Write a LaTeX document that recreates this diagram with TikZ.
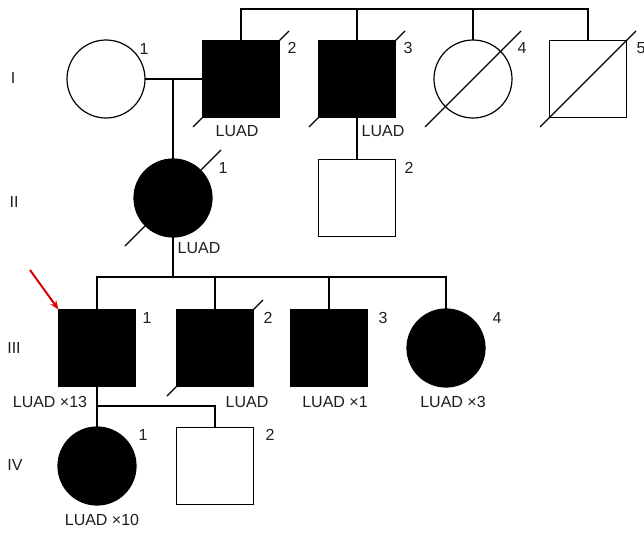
\documentclass[tikz,border=0pt]{standalone}
\usepackage{fontspec}
\setmainfont{Liberation Sans}
\usetikzlibrary{arrows.meta}
\newcommand\deceasedmark[1]{\draw ([shift={(-48,48)}]#1.center) -- ([shift={(48,-48)}]#1.center);}
\begin{document}
\begin{tikzpicture}[x=1pt,y=-1pt,
  line width=1.2pt, draw=black,
  male/.style={draw, rectangle, minimum size=77pt, inner sep=0pt, outer sep=0pt},
  female/.style={draw, circle, minimum size=78pt, inner sep=0pt, outer sep=0pt},
  affected/.style={fill=black},
  txt/.style={font=\fontsize{16}{19}\selectfont, text=black!88, inner sep=0pt},
  proband/.style={draw=red!85!black, line width=2pt, -{Stealth[length=9pt,width=7pt]}}
]
\fill[white] (0,0) rectangle (644,533);
\useasboundingbox (0,0) rectangle (644,533);
\clip (0,0) rectangle (644,533);

% generation numerals
\node[txt] (gI)   at (13,78)  {I};
\node[txt] (gII)  at (14,202) {II};
\node[txt] (gIII) at (14,348) {III};
\node[txt] (gIV)  at (15,465) {IV};

% generation I
\node[female] (i1) at (106,79) {};
\node[male, affected] (i2) at (241,79) {};
\node[male, affected] (i3) at (357,79) {};
\node[female] (i4) at (473,79) {};
\node[male] (i5) at (588,79) {};
\deceasedmark{i2}
\deceasedmark{i3}
\deceasedmark{i4}
\deceasedmark{i5}
\node[txt] (n-i1) at (144,49) {1};
\node[txt] (n-i2) at (292,48) {2};
\node[txt] (n-i3) at (408,48) {3};
\node[txt] (n-i4) at (522,48) {4};
\node[txt] (n-i5) at (641,48) {5};
\node[txt] (d-i2) at (237,131) {LUAD};
\node[txt] (d-i3) at (383,131) {LUAD};

% sibship of I-2 .. I-5
\coordinate (sibA) at (0,9);
\draw (i2.north) -- (i2.north |- sibA) -- (i5.north |- sibA) -- (i5.north);
\draw (i3.north) -- (i3.north |- sibA);
\draw (i4.north) -- (i4.north |- sibA);

% marriage I-1 x I-2 and descent
\draw (i1.east) -- (i2.west);
\coordinate (mA) at (173,79);

% generation II
\node[female, affected] (ii1) at (173,198) {};
\node[male] (ii2) at (357,198) {};
\deceasedmark{ii1}
\draw (mA) -- (ii1.north);
\draw (i3.south) -- (ii2.north);
\node[txt] (n-ii1) at (223,168) {1};
\node[txt] (n-ii2) at (409,168) {2};
\node[txt] (d-ii1) at (199,248) {LUAD};

% generation III
\node[male, affected] (iii1) at (97,348) {};
\node[male, affected] (iii2) at (215,348) {};
\node[male, affected] (iii3) at (329,348) {};
\node[female, affected] (iii4) at (446,348) {};
\deceasedmark{iii2}
\coordinate (sibB) at (0,277);
\draw (ii1.south) -- (ii1.south |- sibB);
\draw (iii1.north) -- (iii1.north |- sibB) -- (iii4.north |- sibB) -- (iii4.north);
\draw (iii2.north) -- (iii2.north |- sibB);
\draw (iii3.north) -- (iii3.north |- sibB);
\node[txt] (n-iii1) at (147,318) {1};
\node[txt] (n-iii2) at (268,318) {2};
\node[txt] (n-iii3) at (383,318) {3};
\node[txt] (n-iii4) at (497,318) {4};
\node[txt] (d-iii1) at (50,402) {LUAD ×13};
\node[txt] (d-iii2) at (247,402) {LUAD};
\node[txt] (d-iii3) at (335,402) {LUAD ×1};
\node[txt] (d-iii4) at (453,402) {LUAD ×3};
\coordinate (arrowtail) at (30,270);
\draw[proband] (arrowtail) -- (iii1.north west);

% generation IV
\node[female, affected] (iv1) at (97,466) {};
\node[male] (iv2) at (215,466) {};
\coordinate (sibC) at (0,406);
\draw (iii1.south) -- (iv1.north);
\draw (iii1.south |- sibC) -| (iv2.north);
\node[txt] (n-iv1) at (143,435) {1};
\node[txt] (n-iv2) at (270,435) {2};
\node[txt] (d-iv1) at (102,520) {LUAD ×10};
\end{tikzpicture}
\end{document}
